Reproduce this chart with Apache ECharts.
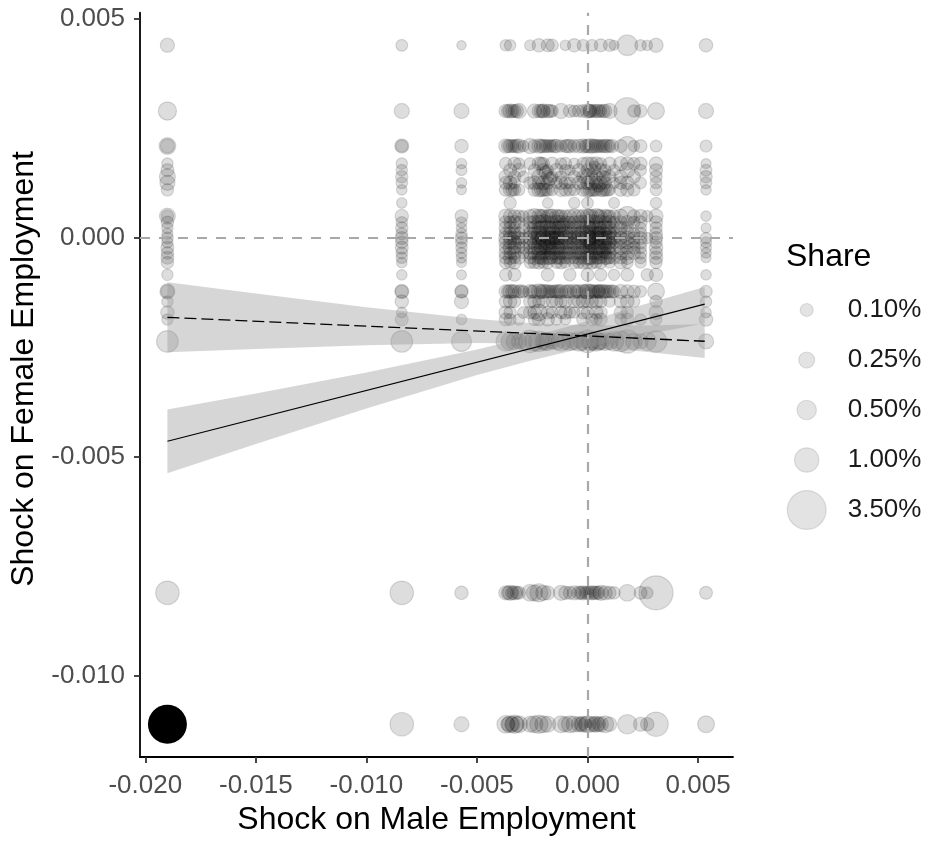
<!DOCTYPE html>
<html>
<head>
<meta charset="utf-8">
<script src="https://cdn.jsdelivr.net/npm/echarts@6/dist/echarts.min.js"></script>
<style>
html,body{margin:0;padding:0;background:#fff;}
#chart{width:927px;height:841px;}
</style>
</head>
<body>
<div id="chart"></div>
<script>
// ---------- DATA ----------
const xTicks = [-0.020, -0.015, -0.010, -0.005, 0.000, 0.005];
const yTicks = [-0.010, -0.005, 0.000, 0.005];

// x positions of the point columns
const colX = [-0.0190, -0.0084, -0.0057, -0.0037, -0.0035, -0.0033, -0.0031, -0.0029, -0.0026, -0.0024,
  -0.0022, -0.0020, -0.0018, -0.0016, -0.0014, -0.0012, -0.0010, -0.0008, -0.0006, -0.0004,
  -0.0002, 0.0000, 0.0002, 0.0004, 0.0006, 0.0008, 0.0010, 0.0012, 0.0015, 0.0018,
  0.0021, 0.0024, 0.0027, 0.0031, 0.00536];

// y level of each row of points
const rowY = [0.0044, 0.0029, 0.0021, 0.0017, 0.00155, 0.0014, 0.00126, 0.0011, 0.0008, 0.0005,
  0.00036, 0.00023, 0.0001, 0.0, -0.0001, -0.00022, -0.00034, -0.00045, -0.00056, -0.00084,
  -0.00122, -0.00145, -0.0017, -0.00186, -0.00236, -0.0081, -0.0111];

// per row: [column index, share %]
const rowPoints = [
 [[0,.15],[1,.06],[2,.01],[3,.05],[4,.05],[8,.04],[10,.12],[12,.1],[13,.08],[16,.03],[18,.12],[20,.06],[22,.06],[24,.1],[26,.08],[27,.02],[29,.6],[31,.05],[32,.03],[33,.15],[34,.12]],
 [[0,.4],[1,.2],[2,.2],[3,.12],[4,.15],[5,.1],[6,.2],[9,.15],[10,.12],[11,.15],[12,.12],[13,.08],[15,.2],[17,.1],[18,.06],[19,.08],[20,.1],[21,.15],[22,.1],[23,.12],[24,.08],[25,.12],[26,.2],[29,1.3],[30,.08],[31,.1],[33,.3],[34,.2]],
 [[0,.3],[1,.15],[2,.12],[3,.15],[4,.12],[5,.1],[6,.15],[7,.05],[8,.2],[9,.1],[10,.15],[11,.12],[12,.1],[13,.08],[14,.12],[15,.08],[16,.1],[17,.12],[18,.1],[19,.12],[20,.15],[21,.12],[22,.15],[23,.12],[24,.1],[25,.12],[26,.08],[28,.1],[29,.5],[30,.05],[31,.1],[33,.06],[34,.07]],
 [[0,.05],[1,.05],[2,.03],[3,.08],[5,.1],[6,.05],[8,.06],[10,.12],[11,.08],[13,.1],[15,.05],[16,.08],[18,.04],[20,.08],[21,.12],[22,.1],[23,.12],[24,.06],[26,.1],[28,.15],[29,.12],[30,.08],[31,.1],[33,.12],[34,.02]],
 [[0,.1],[1,.05],[2,.04],[4,.1],[6,.12],[9,.08],[11,.1],[12,.05],[14,.12],[16,.06],[17,.03],[19,.1],[21,.08],[22,.1],[24,.12],[25,.06],[27,.05],[29,.2],[31,.06],[33,.1],[34,.06]],
 [[0,.25],[1,.08],[3,.12],[5,.08],[7,.05],[10,.15],[12,.1],[13,.05],[15,.06],[18,.08],[20,.1],[21,.15],[22,.08],[23,.1],[25,.06],[26,.1],[28,.12],[30,.1],[33,.08],[34,.08]],
 [[0,.2],[1,.06],[2,.03],[3,.1],[4,.12],[5,.06],[8,.08],[9,.12],[10,.1],[11,.15],[12,.1],[14,.05],[15,.12],[16,.08],[17,.06],[19,.12],[20,.1],[21,.12],[22,.15],[23,.1],[24,.12],[25,.08],[27,.05],[28,.1],[29,.12],[31,.06],[33,.06],[34,.06]],
 [[0,.08],[1,.03],[2,.02],[3,.1],[4,.12],[5,.08],[6,.06],[9,.1],[10,.15],[11,.12],[12,.1],[13,.06],[15,.12],[16,.1],[17,.08],[18,.06],[20,.1],[21,.15],[22,.12],[23,.1],[24,.12],[25,.08],[26,.06],[28,.1],[29,.12],[30,.08],[33,.06],[34,.03]],
 [[1,.03],[4,.08],[12,.03],[18,.05],[21,.06],[27,.04],[33,.05]],
 [[0,.25],[1,.12],[2,.1],[3,.15],[4,.12],[5,.1],[6,.08],[7,.05],[8,.12],[9,.2],[10,.15],[11,.12],[12,.1],[13,.15],[14,.12],[15,.1],[16,.08],[17,.12],[18,.15],[19,.1],[20,.12],[21,.15],[22,.12],[23,.2],[24,.1],[25,.12],[26,.08],[27,.1],[28,.15],[29,.5],[30,.1],[31,.12],[32,.05],[33,.15],[34,.03]],
 [[0,.08],[1,.05],[2,.04],[3,.1],[4,.08],[5,.12],[6,.06],[8,.1],[9,.12],[10,.15],[11,.2],[12,.12],[13,.1],[14,.15],[15,.12],[16,.1],[17,.08],[18,.1],[19,.12],[20,.15],[21,.12],[22,.2],[23,.12],[24,.15],[25,.1],[26,.12],[27,.06],[28,.1],[29,.12],[30,.08],[31,.1],[33,.1]],
 [[0,.05],[1,.08],[2,.03],[3,.12],[4,.1],[5,.06],[7,.08],[8,.1],[9,.15],[10,.12],[11,.15],[12,.2],[13,.12],[14,.1],[15,.15],[16,.12],[17,.1],[18,.12],[19,.15],[20,.12],[21,.2],[22,.15],[23,.12],[24,.1],[25,.15],[26,.1],[27,.08],[28,.12],[29,.1],[31,.06],[33,.08],[34,.02]],
 [[0,.04],[1,.06],[2,.05],[3,.1],[4,.12],[5,.1],[6,.08],[8,.12],[9,.1],[10,.2],[11,.15],[12,.12],[13,.15],[14,.12],[15,.1],[16,.15],[17,.12],[18,.1],[19,.12],[20,.2],[21,.15],[22,.12],[23,.15],[24,.12],[25,.1],[26,.12],[27,.1],[28,.08],[29,.15],[30,.06],[31,.08],[33,.1]],
 [[0,.06],[1,.1],[2,.08],[3,.15],[4,.12],[5,.12],[6,.1],[7,.06],[8,.15],[9,.12],[10,.15],[11,.25],[12,.15],[13,.12],[14,.15],[15,.12],[16,.15],[17,.1],[18,.12],[19,.15],[20,.12],[21,.3],[22,.15],[23,.2],[24,.15],[25,.12],[26,.15],[27,.1],[28,.12],[29,.15],[30,.08],[31,.1],[32,.05],[33,.1],[34,.05]],
 [[0,.05],[1,.08],[2,.06],[3,.12],[4,.1],[5,.15],[6,.08],[8,.12],[9,.15],[10,.12],[11,.15],[12,.2],[13,.12],[14,.1],[15,.15],[16,.12],[17,.1],[18,.15],[19,.12],[20,.15],[21,.12],[22,.2],[23,.12],[24,.1],[25,.15],[26,.12],[27,.08],[28,.1],[29,.12],[30,.06],[31,.1],[33,.08],[34,.04]],
 [[0,.1],[1,.1],[2,.05],[3,.1],[4,.15],[5,.1],[6,.06],[7,.08],[8,.1],[9,.12],[10,.2],[11,.12],[12,.15],[13,.1],[14,.15],[15,.12],[16,.1],[17,.12],[18,.1],[19,.15],[20,.12],[21,.15],[22,.12],[23,.15],[24,.12],[25,.1],[26,.08],[27,.12],[28,.15],[29,.1],[30,.08],[31,.06],[33,.12],[34,.04]],
 [[0,.08],[1,.06],[2,.04],[3,.12],[4,.08],[5,.12],[7,.05],[8,.12],[9,.1],[10,.15],[11,.12],[12,.1],[13,.15],[14,.12],[15,.1],[16,.12],[17,.08],[18,.12],[19,.1],[20,.15],[21,.12],[22,.1],[23,.12],[24,.15],[25,.08],[26,.1],[28,.12],[29,.15],[30,.1],[31,.08],[33,.1],[34,.03]],
 [[0,.1],[1,.05],[2,.03],[3,.1],[4,.12],[5,.06],[6,.1],[8,.08],[9,.12],[10,.1],[11,.15],[12,.12],[13,.08],[14,.1],[15,.12],[16,.08],[17,.1],[18,.08],[19,.12],[20,.1],[21,.15],[22,.12],[23,.1],[24,.08],[25,.12],[26,.06],[27,.1],[28,.08],[29,.12],[31,.06],[33,.12],[34,.02]],
 [[0,.08],[1,.03],[2,.02],[3,.08],[4,.06],[5,.1],[8,.06],[9,.08],[10,.1],[11,.06],[12,.08],[14,.06],[15,.1],[16,.05],[18,.08],[19,.06],[20,.1],[21,.08],[22,.1],[23,.06],[24,.08],[26,.05],[28,.1],[29,.06],[31,.05],[33,.08]],
 [[0,.05],[1,.03],[2,.02],[3,.08],[5,.1],[12,.1],[17,.08],[21,.1],[24,.08],[27,.05],[29,.1],[32,.08],[33,.12],[34,.03]],
 [[0,.2],[1,.15],[2,.12],[3,.12],[4,.15],[5,.12],[6,.1],[7,.06],[8,.15],[9,.12],[10,.2],[11,.15],[12,.12],[13,.1],[14,.12],[15,.15],[16,.1],[17,.12],[18,.15],[19,.12],[20,.15],[21,.2],[22,.15],[23,.12],[24,.15],[25,.12],[26,.1],[27,.08],[28,.15],[29,.12],[30,.1],[31,.06],[33,.3],[34,.08]],
 [[0,.05],[1,.12],[2,.15],[3,.1],[4,.12],[5,.08],[8,.1],[9,.12],[10,.08],[11,.1],[13,.06],[14,.1],[15,.08],[16,.1],[18,.08],[19,.1],[20,.12],[21,.08],[22,.1],[23,.12],[24,.08],[26,.05],[28,.1],[29,.12],[30,.06],[33,.08],[34,.05]],
 [[0,.12],[1,.03],[3,.12],[4,.08],[7,.06],[8,.1],[9,.12],[10,.3],[12,.1],[13,.06],[15,.08],[16,.12],[17,.06],[18,.05],[20,.1],[21,.08],[23,.12],[24,.1],[28,.1],[29,.08],[33,.15],[34,.03]],
 [[0,.05],[1,.1],[2,.03],[3,.1],[4,.06],[6,.05],[9,.08],[10,.1],[12,.12],[14,.05],[16,.04],[20,.1],[22,.08],[23,.06],[24,.1],[28,.06],[29,.1],[31,.05],[33,.06],[34,.12]],
 [[0,.7],[1,.7],[2,.55],[3,.5],[4,.4],[5,.3],[6,.2],[7,.3],[8,.8],[9,.5],[10,.6],[11,.3],[12,.4],[13,.2],[14,.3],[15,.5],[16,.3],[17,.4],[18,.3],[19,.5],[20,.4],[21,.8],[22,.4],[23,.5],[24,.3],[25,.4],[26,.3],[27,.5],[28,.6],[29,.9],[30,.3],[31,.2],[32,.4],[33,.7],[34,.2]],
 [[0,.9],[1,.9],[2,.12],[3,.15],[4,.2],[5,.15],[6,.1],[8,.3],[9,.25],[10,.4],[11,.2],[12,.15],[15,.2],[16,.12],[17,.1],[18,.15],[19,.12],[20,.15],[21,.1],[22,.15],[23,.12],[24,.2],[25,.15],[26,.1],[27,.08],[29,.3],[31,.1],[32,.06],[33,2.5],[34,.1]],
 [[1,.9],[2,.2],[3,.35],[4,.3],[5,.4],[6,.3],[8,.25],[9,.3],[10,.4],[11,.3],[12,.25],[15,.3],[16,.2],[17,.3],[18,.25],[19,.2],[20,.25],[21,.3],[22,.2],[23,.25],[24,.2],[25,.3],[26,.15],[29,.5],[31,.15],[32,.12],[33,1.0],[34,.3]]
];

// additional points between the columns: [x, y, share %]
const extraPoints = [
 [-0.0190, 0.0021, .15], [-0.0190, -0.00122, .12], [-0.0084, -0.00122, .1], [-0.0057, -0.00122, .08],
 [-0.0084, 0.0021, .08], [-0.0190, 0.0005, .08], [0.0001, 0.0021, .15], [0.0005, 0.0021, .1],
 [-0.0021, 0.0029, .12], [-0.0019, 0.0021, .1], [0.0001, 0.0029, .12], [-0.0013, -0.00122, .12],
 [0.0005, -0.00122, .12], [0.0001, -0.0001, .15], [-0.0015, 0.0, .15], [0.0005, 0.0001, .15],
 [-0.0019, -0.0002, .15], [0.0007, -0.0003, .12], [-0.0011, 0.0003, .12],
 [-0.0021, 0.0005, .12], [-0.0017, 0.0005, .15], [-0.0013, 0.0005, .1], [0.0001, 0.0005, .15], [0.0005, 0.0005, .12], [0.0009, 0.0005, .1],
 [-0.0021, 0.00023, .15], [-0.0017, 0.00023, .12], [-0.0013, 0.00023, .15], [0.0001, 0.00023, .12], [0.0005, 0.00023, .15], [0.0009, 0.00023, .12],
 [-0.0021, 0.0, .12], [-0.0017, 0.0, .15], [-0.0013, 0.0, .12], [0.0001, 0.0, .15], [0.0005, 0.0, .12], [0.0009, 0.0, .15],
 [-0.0021, -0.00022, .15], [-0.0017, -0.00022, .12], [-0.0013, -0.00022, .1], [0.0001, -0.00022, .12], [0.0005, -0.00022, .15], [0.0009, -0.00022, .12],
 [-0.0021, -0.00045, .1], [-0.0017, -0.00045, .12], [-0.0013, -0.00045, .1], [0.0001, -0.00045, .12], [0.0005, -0.00045, .1], [0.0009, -0.00045, .12],
 [-0.0015, 0.0021, .12], [0.0009, 0.0021, .12], [-0.0034, 0.0021, .1], [-0.0034, 0.0029, .12], [0.0003, 0.0029, .1], [0.0007, 0.0029, .12],
 [-0.0034, -0.00122, .12], [-0.0021, -0.00122, .12], [-0.0017, -0.00122, .1], [0.0001, -0.00122, .15], [0.0003, -0.00122, .1], [0.0007, -0.00122, .12], [0.0009, -0.00122, .1],
 [-0.0021, 0.0011, .12], [0.0003, 0.0011, .1], [0.0007, 0.0011, .12],
 [-0.0001, -0.0081, .1], [0.0003, -0.0081, .12], [-0.0034, -0.0081, .12],
 [-0.0003, -0.0111, .15], [0.0003, -0.0111, .2], [-0.0034, -0.0111, .2],
 [-0.0019, -0.00236, .4], [0.0001, -0.00236, .35], [0.0005, -0.00236, .3],
 [-0.0036, 0.0029, .1], [-0.0032, 0.0029, .12], [-0.0020, 0.0029, .1], [-0.0017, 0.0029, .12], [0.0001, 0.0029, .1], [0.0005, 0.0029, .12],
 [-0.0036, 0.0021, .1], [-0.0032, 0.0021, .12], [-0.0021, 0.0021, .12], [-0.0017, 0.0021, .1], [-0.0009, 0.0021, .12], [0.0003, 0.0021, .12], [0.0007, 0.0021, .1], [0.0011, 0.0021, .12], [-0.0001, 0.0021, .1],
 [-0.0036, -0.00122, .1], [-0.0030, -0.00122, .12], [-0.0025, -0.00122, .1], [-0.0019, -0.00122, .12], [-0.0015, -0.00122, .1], [-0.0009, -0.00122, .12], [-0.0005, -0.00122, .1], [-0.0001, -0.00122, .12], [0.0005, -0.00122, .1], [0.0011, -0.00122, .12],
 [-0.0034, 0.0011, .1], [-0.0019, 0.0011, .1], [0.0001, 0.0011, .12], [0.0009, 0.0011, .1],
 [-0.0036, -0.0081, .12], [-0.0032, -0.0081, .1], [-0.0003, -0.0081, .1], [0.0001, -0.0081, .12], [0.0005, -0.0081, .1],
 [-0.0036, -0.0111, .15], [-0.0032, -0.0111, .2], [-0.0001, -0.0111, .15], [0.0005, -0.0111, .15],
 [-0.0019, 0.0015, .1], [-0.0017, 0.00135, .12], [0.0003, 0.0016, .12], [0.0007, 0.0014, .1], [0.0005, 0.0012, .12], [-0.0021, 0.0017, .1]
];

// highlighted observation (black)
const highlightPoint = [[-0.0190, -0.0111, 3.5]];

// legend of the share sizes
const legendShares = [0.10, 0.25, 0.50, 1.00, 3.50];
const legendLabels = ['0.10%', '0.25%', '0.50%', '1.00%', '3.50%'];

// fitted lines and confidence bands
const bandX = [-0.019, -0.015, -0.010, -0.005, -0.0025, 0.0, 0.0025, 0.0053];
const solidLo = [-0.005369, -0.004705, -0.003891, -0.003129, -0.002788, -0.002486, -0.002214, -0.001950];
const solidHi = [-0.003913, -0.003547, -0.003071, -0.002545, -0.002240, -0.001898, -0.001526, -0.001120];
const dashLo  = [-0.002608, -0.002531, -0.002446, -0.002399, -0.002415, -0.002480, -0.002589, -0.002741];
const dashHi  = [-0.001012, -0.001269, -0.001580, -0.001851, -0.001947, -0.001994, -0.001997, -0.001971];
const solidLine = [[-0.019, -0.004641], [0.0053, -0.001509]];
const dashLine  = [[-0.019, -0.001810], [0.0053, -0.002356]];

// ---------- BUILD ----------
const FONT = 'Liberation Sans, Arial, sans-serif';
const sizeOf = s => 7.7 + 16.7 * Math.sqrt(s);
const PT_FILL = 'rgba(0,0,0,0.135)';

const points = [];
rowPoints.forEach((row, r) => {
  row.forEach(([c, s]) => points.push([colX[c], rowY[r], s]));
});
extraPoints.forEach(p => points.push(p));

function band(lo, hi, z) {
  return {
    type: 'custom', z: z, silent: true,
    data: bandX.map((x, i) => [x, lo[i], hi[i]]),
    encode: { x: 0, y: [1, 2] },
    renderItem: function (params, api) {
      if (params.dataIndex !== 0) return null;
      const top = bandX.map((x, i) => api.coord([x, hi[i]]));
      const bot = bandX.map((x, i) => api.coord([x, lo[i]])).reverse();
      return { type: 'polygon', shape: { points: top.concat(bot) },
               style: { fill: 'rgba(153,153,153,0.4)' } };
    }
  };
}

const chart = echarts.init(document.getElementById('chart'));
chart.setOption({
  animation: false,
  backgroundColor: '#ffffff',
  textStyle: { fontFamily: FONT },
  title: {
    text: 'Share', left: 781, top: 236,
    textStyle: { fontFamily: FONT, fontSize: 32, fontWeight: 'normal', color: '#000' }
  },
  grid: [
    { left: 140, right: 194, top: 12.7, bottom: 83, containLabel: false },
    { left: 781.7, top: 285, width: 50, height: 250 }
  ],
  xAxis: [{
    type: 'value', gridIndex: 0, min: -0.02024, max: 0.00658,
    name: 'Shock on Male Employment', nameLocation: 'middle', nameGap: 46,
    nameTextStyle: { fontFamily: FONT, fontSize: 32, color: '#000' },
    axisLine: { show: true, onZero: false, lineStyle: { color: '#000', width: 1.8 } },
    axisTick: { show: true, length: 6, customValues: xTicks, lineStyle: { color: '#333', width: 1.8 } },
    axisLabel: { customValues: xTicks, margin: 16, fontFamily: FONT, fontSize: 26, color: '#4d4d4d',
                 formatter: v => v.toFixed(3) },
    splitLine: { show: false }
  }, {
    type: 'value', gridIndex: 1, min: -1, max: 1, show: false
  }],
  yAxis: [{
    type: 'value', gridIndex: 0, min: -0.01185, max: 0.005144,
    name: 'Shock on Female Employment', nameLocation: 'middle', nameGap: 92,
    nameTextStyle: { fontFamily: FONT, fontSize: 32, color: '#000', padding: [0, 0, 0, 32] },
    axisLine: { show: true, onZero: false, lineStyle: { color: '#000', width: 1.8 } },
    axisTick: { show: true, length: 6, customValues: yTicks, lineStyle: { color: '#333', width: 1.8 } },
    axisLabel: { customValues: yTicks, margin: 15, fontFamily: FONT, fontSize: 26, color: '#4d4d4d',
                 formatter: v => v.toFixed(3) },
    splitLine: { show: false }
  }, {
    type: 'category', gridIndex: 1, data: legendLabels, inverse: true, position: 'right',
    axisLine: { show: false }, axisTick: { show: false }, splitLine: { show: false },
    axisLabel: { margin: 16, fontFamily: FONT, fontSize: 26, color: '#1a1a1a' }
  }],
  series: [
    {
      type: 'scatter', xAxisIndex: 0, yAxisIndex: 0, z: 2, silent: true,
      data: points,
      symbolSize: v => sizeOf(v[2]),
      itemStyle: { color: PT_FILL, borderColor: PT_FILL, borderWidth: 1.2, opacity: 1 }
    },
    {
      type: 'scatter', xAxisIndex: 0, yAxisIndex: 0, z: 2, silent: true,
      data: highlightPoint,
      symbolSize: v => sizeOf(v[2]),
      itemStyle: { color: '#000', opacity: 1 }
    },
    {
      type: 'line', xAxisIndex: 0, yAxisIndex: 0, z: 3, data: [], silent: true,
      markLine: {
        silent: true, symbol: 'none', label: { show: false },
        lineStyle: { color: '#a8a8a8', width: 2.2, type: [10, 9] },
        data: [{ xAxis: 0 }, { yAxis: 0 }]
      }
    },
    band(solidLo, solidHi, 4),
    band(dashLo, dashHi, 4),
    {
      type: 'line', xAxisIndex: 0, yAxisIndex: 0, z: 5, data: solidLine, symbol: 'none', silent: true,
      lineStyle: { color: '#000', width: 1.1 }
    },
    {
      type: 'line', xAxisIndex: 0, yAxisIndex: 0, z: 5, data: dashLine, symbol: 'none', silent: true,
      lineStyle: { color: '#000', width: 1.3, type: [12, 5] }
    },
    {
      type: 'scatter', xAxisIndex: 1, yAxisIndex: 1, silent: true,
      data: legendShares.map((s, i) => [0, legendLabels[i], s]),
      symbolSize: v => sizeOf(v[2]),
      itemStyle: { color: 'rgba(0,0,0,0.11)', borderColor: 'rgba(0,0,0,0.11)', borderWidth: 1.2, opacity: 1 }
    }
  ]
});
</script>
</body>
</html>
